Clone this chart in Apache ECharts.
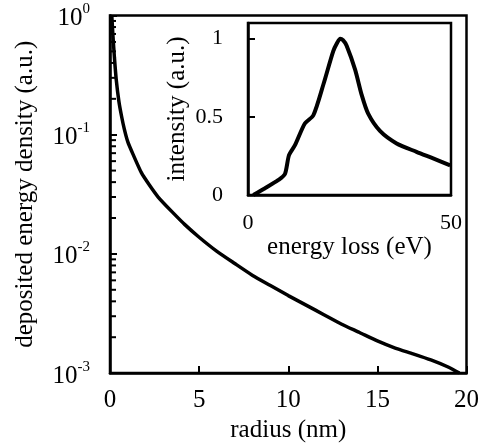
<!DOCTYPE html>
<html>
<head>
<meta charset="utf-8">
<script src="https://cdn.jsdelivr.net/npm/echarts@6/dist/echarts.min.js"></script>
<style>html,body{margin:0;padding:0;background:#fff;}#c{width:482px;height:448px;}</style>
</head>
<body>
<div id="c"></div>
<script>
// Main plot: deposited energy density vs radius
const RADIUS = [0.1, 0.17, 0.25, 0.35, 0.5, 0.64, 0.8, 1.0, 1.3, 1.76, 2.2, 2.7, 3.5, 4.2, 5, 6, 7, 8, 9, 10, 11, 12, 13, 14, 15, 16, 17, 18, 19, 19.6];
const DENSITY = [1.0, 0.66, 0.44, 0.29, 0.19, 0.145, 0.112, 0.087, 0.068, 0.048, 0.038, 0.030, 0.0224, 0.0176, 0.0138, 0.0105, 0.0083, 0.0066, 0.00543, 0.00447, 0.00372, 0.00309, 0.00257, 0.00219, 0.00186, 0.00162, 0.00145, 0.00129, 0.00112, 0.001];
const X_TICKS = [0, 5, 10, 15, 20];
const Y_TICKS = [0.001, 0.01, 0.1, 1];
const MINOR_TICKS = [0.002,0.003,0.004,0.005,0.006,0.007,0.008,0.009,
                     0.02,0.03,0.04,0.05,0.06,0.07,0.08,0.09,
                     0.2,0.3,0.4,0.5,0.6,0.7,0.8,0.9];
// Inset: intensity vs energy loss
const ENERGY = [1.3, 4.2, 7.5, 9.1, 10.1, 11.6, 14.0, 16.1, 18.6, 21.0, 22.0, 22.7, 23.4, 24.3, 26.4, 28.0, 29.6, 32.5, 36.6, 41.5, 45.6, 49.8];
const INTENSITY = [0, 0.043, 0.096, 0.134, 0.255, 0.32, 0.457, 0.51, 0.71, 0.92, 0.975, 1.0, 0.99, 0.955, 0.80, 0.64, 0.52, 0.41, 0.33, 0.276, 0.234, 0.19];
const INSET_X_TICKS = [0, 50];
const INSET_Y_TICKS = [0, 0.5, 1];

const FONT = '"Liberation Serif", "Times New Roman", serif';
const chart = echarts.init(document.getElementById('c'), null, {renderer: 'canvas'});

const mainData = RADIUS.map((r, i) => [r, DENSITY[i]]);
const insetData = ENERGY.map((e, i) => [e, INTENSITY[i]]);
const minorData = MINOR_TICKS.map(v => [X_TICKS[0], v]);

chart.setOption({
  animation: false,
  backgroundColor: '#fff',
  grid: [
    {left: 110, right: 15, top: 11, bottom: 72, show: true, borderColor: '#000', borderWidth: 2.5, backgroundColor: 'transparent'},
    {left: 248, right: 31, top: 23, bottom: 253, show: true, borderColor: '#000', borderWidth: 2.5, backgroundColor: 'transparent'}
  ],
  xAxis: [
    {
      gridIndex: 0, type: 'value',
      min: X_TICKS[0], max: X_TICKS[X_TICKS.length - 1], interval: X_TICKS[1] - X_TICKS[0],
      name: 'radius (nm)', nameLocation: 'middle', nameGap: 42,
      nameTextStyle: {fontFamily: FONT, fontSize: 25, color: '#000'},
      axisLine: {lineStyle: {color: '#000', width: 2.5}},
      axisTick: {inside: true, length: 7, lineStyle: {color: '#000', width: 2}},
      axisLabel: {fontFamily: FONT, fontSize: 25, color: '#000', margin: 15},
      splitLine: {show: false}
    },
    {
      gridIndex: 1, type: 'value',
      min: INSET_X_TICKS[0], max: INSET_X_TICKS[1], interval: INSET_X_TICKS[1] - INSET_X_TICKS[0],
      name: 'energy loss (eV)', nameLocation: 'middle', nameGap: 24,
      nameTextStyle: {fontFamily: FONT, fontSize: 25, color: '#000'},
      axisLine: {lineStyle: {color: '#000', width: 2.5}},
      axisTick: {show: false},
      axisLabel: {fontFamily: FONT, fontSize: 22, color: '#000', margin: 17},
      splitLine: {show: false}
    }
  ],
  yAxis: [
    {
      gridIndex: 0, type: 'log', logBase: 10,
      min: Y_TICKS[0], max: Y_TICKS[Y_TICKS.length - 1],
      name: 'deposited energy density (a.u.)', nameLocation: 'middle', nameGap: 72,
      nameTextStyle: {fontFamily: FONT, fontSize: 25, color: '#000'},
      axisLine: {lineStyle: {color: '#000', width: 2.5}},
      axisTick: {inside: true, length: 7, lineStyle: {color: '#000', width: 2}},
      axisLabel: {
        margin: 20, color: '#000',
        formatter: v => '{b|10}{s|' + Math.round(Math.log10(v)) + '}',
        rich: {
          b: {fontFamily: FONT, fontSize: 25, color: '#000', lineHeight: 28, padding: [6, 0, 0, 0]},
          s: {fontFamily: FONT, fontSize: 15, color: '#000', verticalAlign: 'top', lineHeight: 15}
        }
      },
      splitLine: {show: false}
    },
    {
      gridIndex: 1, type: 'value',
      min: INSET_Y_TICKS[0], max: 1.1, interval: INSET_Y_TICKS[1] - INSET_Y_TICKS[0],
      name: 'intensity (a.u.)', nameLocation: 'middle', nameGap: 58,
      nameTextStyle: {fontFamily: FONT, fontSize: 25, color: '#000'},
      axisLine: {lineStyle: {color: '#000', width: 2.5}},
      axisTick: {inside: true, length: 7, lineStyle: {color: '#000', width: 2}},
      axisLabel: {fontFamily: FONT, fontSize: 22, color: '#000', margin: 25, showMaxLabel: false},
      splitLine: {show: false}
    }
  ],
  series: [
    {
      type: 'line', xAxisIndex: 0, yAxisIndex: 0, data: mainData,
      smooth: 0.2, showSymbol: false, symbol: 'none',
      lineStyle: {color: '#000', width: 3.5}
    },
    {
      type: 'custom', xAxisIndex: 0, yAxisIndex: 0, data: minorData, clip: false,
      renderItem: (params, api) => {
        const p = api.coord([api.value(0), api.value(1)]);
        return {type: 'line', shape: {x1: p[0], y1: p[1], x2: p[0] + 6, y2: p[1]},
                style: {stroke: '#000', lineWidth: 2}};
      }
    },
    {
      type: 'line', xAxisIndex: 1, yAxisIndex: 1, data: insetData,
      smooth: 0.25, showSymbol: false, symbol: 'none',
      lineStyle: {color: '#000', width: 4}
    }
  ]
});
</script>
</body>
</html>
